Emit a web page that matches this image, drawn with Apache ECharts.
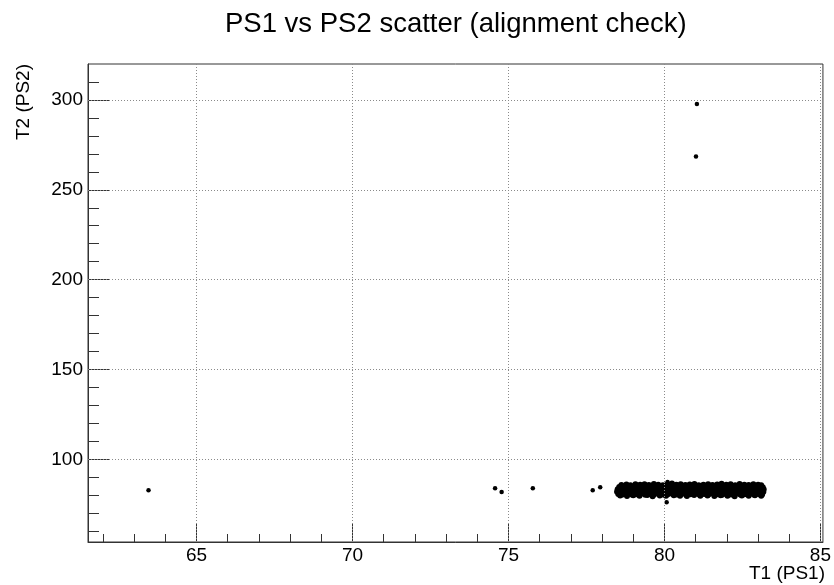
<!DOCTYPE html>
<html>
<head>
<meta charset="utf-8">
<script src="https://cdn.jsdelivr.net/npm/echarts@6/dist/echarts.min.js"></script>
<style>html,body{margin:0;padding:0;background:#fff}#c{width:834px;height:585px}</style>
</head>
<body>
<div id="c"></div>
<script>
// ---- data ----
const chartTitle = 'PS1 vs PS2 scatter (alignment check)';
const xName = 'T1 (PS1)';
const yName = 'T2 (PS2)';
const xRange = [61.52, 85.08];
const yRange = [54, 320];
const xMajorTicks = [65, 70, 75, 80, 85];
const xMinorTicks = [62, 63, 64, 66, 67, 68, 69, 71, 72, 73, 74, 76, 77, 78, 79, 81, 82, 83, 84];
const yMajorTicks = [100, 150, 200, 250, 300];
const yMinorTicks = [60, 70, 80, 90, 110, 120, 130, 140, 160, 170, 180, 190, 210, 220, 230, 240, 260, 270, 280, 290, 310];

const outliers = [[63.46,82.8],[74.57,83.9],[74.78,81.8],[75.78,83.9],[77.7,82.8],[77.94,84.4],[80.07,76.1],[80.1,87.4],[81.01,268.5],[81.04,297.8]];

const clusterRow1 = [[78.62,85.7],[78.78,86.0],[78.91,85.6],[79.07,86.2],[79.22,85.8],[79.36,86.1],[79.5,85.7],[79.66,86.3],[79.8,85.9],[79.95,85.6],[80.1,86.1],[80.24,86.5],[80.38,85.8],[80.52,86.2],[80.67,85.7],[80.81,86.0],[80.96,86.3],[81.1,85.6],[81.25,85.9],[81.4,86.2],[81.54,85.7],[81.69,86.0],[81.83,86.4],[81.98,85.8],[82.12,86.1],[82.27,85.6],[82.41,86.3],[82.56,85.9],[82.7,85.7],[82.85,86.1],[83.0,85.8],[83.1,85.6]];
const clusterRow2 = [[78.55,84.6],[78.69,84.3],[78.83,84.8],[78.97,84.4],[79.12,84.7],[79.26,84.2],[79.41,84.5],[79.55,84.8],[79.7,84.3],[79.84,84.6],[79.99,84.4],[80.13,84.7],[80.28,84.5],[80.42,84.2],[80.57,84.6],[80.71,84.8],[80.86,84.4],[81.0,84.5],[81.15,84.7],[81.29,84.3],[81.44,84.6],[81.58,84.4],[81.73,84.8],[81.87,84.5],[82.02,84.2],[82.16,84.6],[82.31,84.7],[82.45,84.4],[82.6,84.5],[82.74,84.8],[82.89,84.3],[83.03,84.6],[83.15,84.4]];
const clusterRow3 = [[78.5,83.3],[78.62,83.0],[78.76,83.4],[78.9,83.1],[79.05,83.2],[79.19,83.5],[79.34,82.9],[79.48,83.3],[79.63,83.1],[79.77,83.4],[79.92,83.0],[80.06,83.2],[80.21,83.5],[80.35,83.1],[80.5,83.3],[80.64,82.9],[80.79,83.2],[80.93,83.4],[81.08,83.0],[81.22,83.3],[81.37,83.1],[81.51,83.5],[81.66,83.2],[81.8,82.9],[81.95,83.3],[82.09,83.1],[82.24,83.4],[82.38,83.0],[82.53,83.2],[82.67,83.5],[82.82,83.1],[82.96,83.3],[83.12,83.0],[83.18,83.4]];
const clusterRow4 = [[78.48,82.0],[78.6,81.7],[78.74,82.1],[78.88,81.8],[79.02,81.9],[79.17,82.2],[79.31,81.6],[79.46,82.0],[79.6,81.8],[79.75,82.1],[79.89,81.7],[80.04,81.9],[80.18,82.2],[80.33,81.8],[80.47,82.0],[80.62,81.6],[80.76,81.9],[80.91,82.1],[81.05,81.7],[81.2,82.0],[81.34,81.8],[81.49,82.2],[81.63,81.9],[81.78,81.6],[81.92,82.0],[82.07,81.8],[82.21,82.1],[82.36,81.7],[82.5,81.9],[82.65,82.2],[82.79,81.8],[82.94,82.0],[83.08,81.7],[83.17,82.0]];
const clusterRow5 = [[78.52,80.7],[78.66,80.4],[78.8,80.8],[78.95,80.5],[79.09,80.6],[79.24,80.9],[79.38,80.3],[79.53,80.7],[79.67,80.5],[79.82,80.8],[79.96,80.4],[80.11,80.6],[80.25,80.9],[80.4,80.5],[80.54,80.7],[80.69,80.3],[80.83,80.6],[80.98,80.8],[81.12,80.4],[81.27,80.7],[81.41,80.5],[81.56,80.9],[81.7,80.6],[81.85,80.3],[81.99,80.7],[82.14,80.5],[82.28,80.8],[82.43,80.4],[82.57,80.6],[82.72,80.9],[82.86,80.5],[83.01,80.7],[83.13,80.4]];
const clusterRow6 = [[78.58,79.9],[78.8,79.6],[79.0,80.0],[79.2,79.7],[79.45,80.1],[79.62,79.5],[79.85,79.9],[80.05,79.7],[80.3,80.0],[80.5,79.8],[80.72,79.6],[80.95,80.1],[81.15,79.7],[81.38,79.9],[81.6,79.6],[81.8,80.0],[82.02,79.8],[82.25,79.5],[82.48,79.9],[82.7,79.7],[82.9,80.0],[83.1,79.8]];

// ---- chart ----
const FONT = '"Liberation Sans", Arial, Helvetica, sans-serif';
const AX = '#333';
const clusterData = [].concat(clusterRow1, clusterRow2, clusterRow3, clusterRow4, clusterRow5, clusterRow6);

const gridLines = [];
xMajorTicks.forEach(v => gridLines.push({ xAxis: v }));
yMajorTicks.forEach(v => gridLines.push({ yAxis: v }));

const chart = echarts.init(document.getElementById('c'), null, { renderer: 'canvas' });
chart.setOption({
  animation: false,
  backgroundColor: '#fff',
  textStyle: { fontFamily: FONT },
  title: {
    text: chartTitle, left: 225, top: 10, padding: 0,
    textStyle: { fontFamily: FONT, fontSize: 27.5, fontWeight: 'normal', color: '#000' }
  },
  grid: { left: 88, top: 64, width: 737, height: 478, show: true, borderColor: AX, borderWidth: 1, backgroundColor: 'transparent' },
  xAxis: [
    {
      type: 'value', min: xRange[0], max: xRange[1], position: 'bottom',
      axisLine: { show: true, onZero: false, lineStyle: { color: AX, width: 1 } },
      axisTick: { show: true, inside: true, length: 19, customValues: xMajorTicks, lineStyle: { color: AX } },
      axisLabel: { show: true, customValues: xMajorTicks, margin: 4, fontSize: 19, color: '#000', fontFamily: FONT },
      splitLine: { show: false }
    },
    {
      type: 'value', min: xRange[0], max: xRange[1], position: 'bottom',
      axisLine: { show: false, onZero: false },
      axisTick: { show: true, inside: true, length: 8, customValues: xMinorTicks, lineStyle: { color: AX } },
      axisLabel: { show: false },
      splitLine: { show: false }
    }
  ],
  yAxis: [
    {
      type: 'value', min: yRange[0], max: yRange[1], position: 'left',
      axisLine: { show: true, onZero: false, lineStyle: { color: AX, width: 1 } },
      axisTick: { show: true, inside: true, length: 22, customValues: yMajorTicks, lineStyle: { color: AX } },
      axisLabel: { show: true, customValues: yMajorTicks, margin: 5, fontSize: 19, color: '#000', fontFamily: FONT },
      splitLine: { show: false }
    },
    {
      type: 'value', min: yRange[0], max: yRange[1], position: 'left',
      axisLine: { show: false, onZero: false },
      axisTick: { show: true, inside: true, length: 11, customValues: yMinorTicks, lineStyle: { color: AX } },
      axisLabel: { show: false },
      splitLine: { show: false }
    }
  ],
  series: [
    {
      name: 'grid', type: 'scatter', data: [], z: 1,
      markLine: {
        silent: true, symbol: ['none', 'none'], label: { show: false },
        lineStyle: { color: '#8a8a8a', type: [1, 2], width: 1 },
        emphasis: { disabled: true },
        data: gridLines
      }
    },
    {
      name: 'cluster', type: 'scatter', data: clusterData, z: 3,
      symbol: 'circle', symbolSize: 6, itemStyle: { color: '#000', opacity: 1 }
    },
    {
      name: 'outliers', type: 'scatter', data: outliers, z: 3,
      symbol: 'circle', symbolSize: 4.5, itemStyle: { color: '#000', opacity: 1 }
    }
  ],
  graphic: [
    {
      type: 'text', x: 24, y: 64, rotation: Math.PI / 2,
      style: { text: yName, font: '19px ' + FONT, fill: '#000', align: 'right', verticalAlign: 'middle' }
    },
    {
      type: 'text', x: 825, y: 564,
      style: { text: xName, font: '19px ' + FONT, fill: '#000', align: 'right', verticalAlign: 'top' }
    }
  ]
});
</script>
</body>
</html>
